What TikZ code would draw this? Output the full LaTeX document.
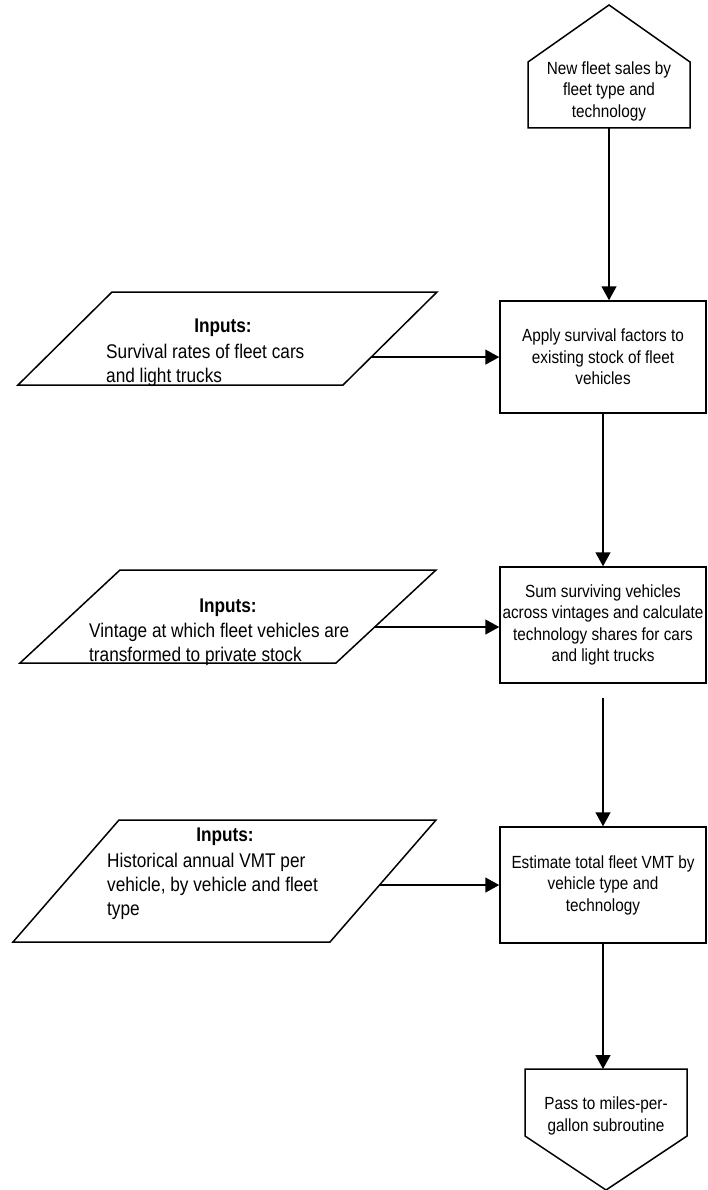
\documentclass[tikz,border=0pt]{standalone}
\usepackage{fontspec}
\setmainfont{Liberation Sans}
\newfontfamily\bxfam[FakeStretch=0.87]{Liberation Sans}
\usetikzlibrary{arrows.meta,calc}
\newcommand\bxfont{\bxfam\fontsize{17.6}{21.5}\selectfont}
\newcommand\pafont{\bxfam\fontsize{19.8}{24}\selectfont}
\begin{document}
\begin{tikzpicture}[x=1pt,y=-1pt,
  shp/.style={draw=black, line width=1.5pt, line join=miter},
  boxnode/.style={draw=black, line width=1.5pt, minimum width=206pt, align=center, inner sep=0pt, font=\bxfont},
  txt/.style={align=center, inner sep=0pt, font=\bxfont},
  ptxt/.style={align=left, inner sep=0pt, font=\pafont},
  htxt/.style={inner sep=0pt, font=\pafont\bfseries},
  conn/.style={line width=1.5pt, -{Triangle[length=14pt,width=15pt]}}]
\fill[white] (0,0) rectangle (707,1190);
\useasboundingbox (0,0) rectangle (707,1190);

% top pentagon
\coordinate (tpa) at (609,5);
\coordinate (tp) at (609,128);
\draw[shp] (tpa) -- (690,62) -- (690,128) -- (528,128) -- (528,62) -- cycle;
\node[txt] (top) at (609,91) {New fleet sales by\\fleet type and\\technology};

% process boxes
\node[boxnode, minimum height=112pt] (b1) at (603,357) {Apply survival factors to\\existing stock of fleet\\vehicles};
\node[boxnode, minimum height=116pt] (b2) at (603,625) {Sum surviving vehicles\\across vintages and calculate\\technology shares for cars\\and light trucks};
\node[boxnode, minimum height=116pt] (b3) at (603,885) {Estimate total fleet VMT by\\vehicle type and\\technology};

% bottom pentagon
\coordinate (bpt) at (606,1069);
\draw[shp] (525,1069) -- (687,1069) -- (687,1136) -- (606,1190) -- (525,1136) -- cycle;
\node[txt] (bot) at (606,1116) {Pass to miles-per-\\gallon subroutine};

% input parallelograms
\coordinate (p1tr) at (437,292); \coordinate (p1br) at (343,385);
\draw[shp] (112,292) -- (p1tr) -- (p1br) -- (18,385) -- cycle;
\node[htxt] (i1h) at (223,328) {Inputs:};
\node[ptxt, anchor=west] (i1) at (106,365) {Survival rates of fleet cars\\and light trucks};
\coordinate (p1e) at ($(p1tr)!0.70!(p1br)$);

\coordinate (p2tr) at (436,570); \coordinate (p2br) at (336,663);
\draw[shp] (120,570) -- (p2tr) -- (p2br) -- (20,663) -- cycle;
\node[htxt] (i2h) at (228,608) {Inputs:};
\node[ptxt, anchor=west] (i2) at (89,644.5) {Vintage at which fleet vehicles are\\transformed to private stock};
\coordinate (p2e) at ($(p2tr)!0.613!(p2br)$);

\coordinate (p3tr) at (436,820); \coordinate (p3br) at (330,942);
\draw[shp] (119,820) -- (p3tr) -- (p3br) -- (13,942) -- cycle;
\node[htxt] (i3h) at (225,837) {Inputs:};
\node[ptxt, anchor=west] (i3) at (107,886) {Historical annual VMT per\\vehicle, by vehicle and fleet\\type};
\coordinate (p3e) at ($(p3tr)!0.533!(p3br)$);

% connectors
\draw[conn] (tp) -- (tp |- b1.north);
\draw[conn] (b1.south) -- (b2.north);
\coordinate (g2) at ($(b2.south)+(0,14)$);
\draw[conn] (g2) -- (b3.north);
\draw[conn] (b3.south) -- (b3.south |- bpt);
\draw[conn] (p1e) -- (p1e -| b1.west);
\draw[conn] (p2e) -- (p2e -| b2.west);
\draw[conn] (p3e) -- (p3e -| b3.west);
\end{tikzpicture}
\end{document}
